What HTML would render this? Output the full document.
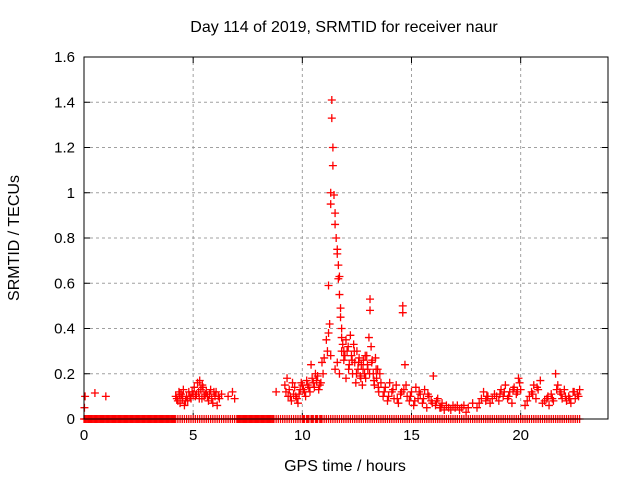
<!DOCTYPE html>
<html><head><meta charset="utf-8"><style>
html,body{margin:0;padding:0;background:#fff;}
svg{display:block;font-family:"Liberation Sans",sans-serif;}
</style></head><body>
<svg id="chart" width="640" height="480">
<text x="344" y="32" font-size="16" text-anchor="middle">Day 114 of 2019, SRMTID for receiver naur</text>
<text x="345" y="471" font-size="16" text-anchor="middle">GPS time / hours</text>
<text x="19" y="238" font-size="16" text-anchor="middle" transform="rotate(-90 19 238)">SRMTID / TECUs</text>
<g id="grid"></g>
<g id="ticks"></g>
<g id="marks"></g>
<rect x="84" y="57" width="524" height="362" fill="none" stroke="#000" stroke-width="1"/>
</svg>
<script>
const xTicks=[0,5,10,15,20];
const yTicks=[0,0.2,0.4,0.6,0.8,1,1.2,1.4,1.6];
const yTickLabels=["0","0.2","0.4","0.6","0.8","1","1.2","1.4","1.6"];
const times=[0.02,0.05,0.5,1.0,
4.2,4.3,4.35,4.4,4.45,4.5,4.55,4.6,4.7,4.75,4.8,4.9,5.0,5.05,5.1,5.2,5.25,5.3,5.35,5.4,5.45,5.5,5.6,5.7,5.75,5.8,5.9,6.0,6.05,6.1,6.2,6.3,6.6,6.8,6.9,
4.25,4.38,4.52,4.65,4.85,4.95,5.15,5.28,5.42,5.55,5.65,5.85,5.95,6.15,
8.8,9.2,9.3,9.35,9.4,9.5,9.55,9.6,9.7,9.8,9.9,10.0,10.1,10.2,10.3,10.4,10.5,10.6,10.7,10.8,10.9,
9.25,9.45,9.65,9.75,9.85,9.95,10.05,10.15,10.25,10.35,10.45,10.55,10.65,10.75,10.85,10.95,
11.0,11.1,11.15,11.2,11.25,11.3,11.3,11.35,11.35,11.4,11.4,11.45,11.5,11.5,11.55,11.6,11.6,11.65,11.65,11.7,11.7,11.75,11.75,11.8,11.8,11.85,11.9,11.95,12.0,
11.2,11.3,11.5,11.6,11.7,11.8,11.9,12.0,12.1,12.15,12.2,12.25,12.3,12.35,12.4,12.45,12.5,12.55,12.6,12.65,12.7,12.75,12.8,12.85,12.9,12.95,13.0,13.05,13.1,13.1,13.15,13.2,13.25,13.3,13.35,13.4,13.45,13.5,13.55,13.6,
12.05,12.12,12.28,12.38,12.48,12.58,12.68,12.78,12.88,12.98,13.08,13.18,13.28,13.38,13.48,
13.7,13.8,13.9,14.0,14.1,14.2,14.3,14.4,14.5,14.6,14.6,14.65,14.7,14.8,14.9,15.0,15.1,15.2,15.3,15.4,15.5,15.6,15.7,15.8,15.9,16.0,16.1,16.2,16.3,16.4,16.5,16.6,16.7,16.8,16.9,
13.75,13.95,14.15,14.35,14.55,14.75,14.95,15.15,15.35,15.55,15.75,15.95,16.15,16.35,
17.0,17.2,17.4,17.5,17.6,17.8,18.0,18.2,18.3,18.4,18.5,18.6,18.8,19.0,19.1,19.2,19.3,19.4,19.5,19.6,19.7,19.8,19.9,20.0,20.2,20.4,20.5,20.6,20.7,20.8,20.9,
17.1,17.3,18.1,18.45,18.7,18.9,19.05,19.25,19.45,19.65,19.85,19.95,20.3,20.55,20.75,
21.0,21.2,21.3,21.4,21.5,21.6,21.7,21.8,21.9,22.0,22.1,22.2,22.3,22.4,22.5,22.6,22.7,
21.1,21.25,21.45,21.65,21.85,22.05,22.25,22.45,22.65];
const values=[0.05,0.1,0.115,0.1,
0.1,0.08,0.12,0.07,0.11,0.09,0.13,0.06,0.1,0.08,0.12,0.09,0.11,0.14,0.1,0.16,0.12,0.17,0.13,0.09,0.14,0.1,0.12,0.08,0.11,0.13,0.07,0.1,0.12,0.06,0.09,0.11,0.1,0.12,0.09,
0.09,0.11,0.1,0.08,0.1,0.12,0.11,0.09,0.15,0.11,0.1,0.09,0.12,0.1,
0.12,0.15,0.18,0.1,0.13,0.08,0.16,0.11,0.1,0.07,0.13,0.15,0.12,0.17,0.14,0.24,0.16,0.2,0.19,0.15,0.25,
0.12,0.1,0.14,0.09,0.11,0.16,0.13,0.1,0.15,0.12,0.18,0.14,0.17,0.13,0.16,0.2,
0.27,0.35,0.3,0.59,0.42,0.95,1.0,1.41,1.33,1.12,1.2,0.99,0.91,0.86,0.8,0.75,0.73,0.68,0.62,0.55,0.63,0.49,0.45,0.4,0.36,0.33,0.3,0.28,0.35,
0.38,0.28,0.22,0.25,0.2,0.3,0.26,0.18,0.32,0.24,0.37,0.28,0.2,0.33,0.25,0.16,0.3,0.22,0.27,0.19,0.24,0.15,0.26,0.2,0.18,0.28,0.22,0.36,0.53,0.48,0.32,0.26,0.2,0.15,0.27,0.18,0.22,0.12,0.2,0.16,
0.3,0.22,0.26,0.3,0.2,0.25,0.18,0.22,0.28,0.24,0.2,0.25,0.17,0.22,0.14,
0.1,0.14,0.08,0.16,0.12,0.09,0.15,0.07,0.11,0.5,0.47,0.13,0.24,0.1,0.08,0.12,0.06,0.14,0.09,0.11,0.07,0.13,0.05,0.1,0.08,0.19,0.06,0.09,0.05,0.07,0.04,0.06,0.05,0.04,0.06,
0.12,0.1,0.13,0.09,0.12,0.15,0.1,0.08,0.12,0.09,0.11,0.07,0.08,0.05,
0.05,0.04,0.06,0.03,0.05,0.07,0.05,0.09,0.12,0.08,0.1,0.07,0.11,0.08,0.13,0.1,0.15,0.09,0.12,0.07,0.14,0.11,0.18,0.13,0.06,0.1,0.12,0.15,0.09,0.13,0.17,
0.06,0.05,0.07,0.1,0.09,0.1,0.11,0.12,0.1,0.13,0.12,0.16,0.08,0.11,0.14,
0.07,0.09,0.06,0.11,0.08,0.2,0.15,0.12,0.09,0.13,0.08,0.1,0.07,0.12,0.09,0.11,0.13,
0.08,0.1,0.09,0.13,0.11,0.1,0.09,0.12,0.1];
const zeroTimes=[0.0,0.1,0.2,0.3,0.4,0.5,0.6,0.7,0.8,0.9,1.0,1.1,1.2,1.3,1.4,1.5,1.6,1.7,1.8,1.9,2.0,2.1,2.2,2.3,2.4,2.5,2.6,2.7,2.8,2.9,3.0,3.1,3.2,3.3,3.4,3.5,3.6,3.7,3.8,3.9,4.0,4.1,4.2,4.4,4.6,4.8,5.0,5.3,5.5,5.7,5.9,6.1,6.3,6.6,6.8,7.0,7.1,7.2,7.3,7.4,7.5,7.6,7.7,7.8,7.9,8.0,8.1,8.2,8.3,8.4,8.5,8.6,8.7,8.9,9.1,9.3,9.5,9.7,9.8,9.9,10.0,10.1,10.2,10.3,10.4,10.5,10.6,10.7,10.8,10.9,11.0,11.1,11.3,11.5,11.7,11.9,12.0,12.2,12.4,12.6,12.8,13.0,13.1,13.3,13.5,13.7,13.9,14.1,14.3,14.5,14.7,14.9,15.1,15.3,15.5,15.7,15.9,16.1,16.3,16.5,16.7,16.9,17.1,17.3,17.5,17.7,17.9,18.1,18.3,18.5,18.7,18.9,19.1,19.3,19.5,19.7,19.9,20.1,20.3,20.5,20.7,20.9,21.1,21.3,21.5,21.7,21.9,22.1,22.3,22.5,22.7,
0.05,0.15,0.25,0.35,0.45,0.55,0.65,0.75,0.85,0.95,1.05,1.15,1.25,1.35,1.45,1.55,1.65,1.75,1.85,1.95,2.05,2.15,2.25,2.35,2.45,2.55,2.65,2.75,2.85,2.95,3.05,3.15,3.25,3.35,3.45,3.55,3.65,3.75,3.85,3.95,4.05,4.15,4.3,4.5,4.7,4.9,5.1,5.2,5.4,5.6,5.8,6.0,6.2,6.4,6.5,6.7,6.9,7.05,7.15,7.25,7.35,7.45,7.55,7.65,7.75,7.85,7.95,8.05,8.15,8.25,8.35,8.45,8.55,8.65,8.8,9.0,9.2,9.4,9.6,10.05,10.25,10.45,10.65,10.85,11.2,11.4,11.6,11.8,12.1,12.3,12.5,12.7,12.9,13.2,13.4,13.6,13.8,14.0,14.2,14.4,14.6,14.8,15.0,15.2,15.4,15.6,15.8,16.0,16.2,16.4,16.6,16.8,17.0,17.2,17.4,17.6,17.8,18.0,18.2,18.4,18.6,18.8,19.0,19.2,19.4,19.6,19.8,20.0,20.2,20.4,20.6,20.8,21.0,21.2,21.4,21.6,21.8,22.0,22.2,22.4,22.6];
const NS="http://www.w3.org/2000/svg";
const X0=84,X1=608,Y0=419,Y1=57,XMAX=24,YMAX=1.6;
function xs(t){return X0+(X1-X0)*t/XMAX;}
function ys(v){return Y0-(Y0-Y1)*v/YMAX;}
function mk(tag,attrs,parent){const e=document.createElementNS(NS,tag);for(const k in attrs)e.setAttribute(k,attrs[k]);parent.appendChild(e);return e;}
const grid=document.getElementById('grid'),ticks=document.getElementById('ticks'),marks=document.getElementById('marks');
yTicks.forEach((v,i)=>{const y=ys(v);
 if(i>0&&i<yTicks.length-1){const g=mk('line',{x1:X0,x2:X1,y1:y,y2:y,stroke:'#a0a0a0','stroke-dasharray':'3,3'},grid);
 
 }
 mk('line',{x1:X0,x2:X0+6,y1:y,y2:y,stroke:'#000'},ticks);mk('line',{x1:X1,x2:X1-6,y1:y,y2:y,stroke:'#000'},ticks);
 const t=mk('text',{x:X0-9,y:y+5,'font-size':15,'text-anchor':'end'},ticks);t.textContent=yTickLabels[i];
 
 });
xTicks.forEach((v,i)=>{const x=xs(v);
 if(i>0){const g=mk('line',{x1:x,x2:x,y1:Y0,y2:Y1,stroke:'#a0a0a0','stroke-dasharray':'3,3'},grid);
 
 }
 mk('line',{x1:x,x2:x,y1:Y0,y2:Y0-6,stroke:'#000'},ticks);mk('line',{x1:x,x2:x,y1:Y1,y2:Y1+6,stroke:'#000'},ticks);
 const t=mk('text',{x:x,y:Y0+21,'font-size':15,'text-anchor':'middle'},ticks);t.textContent=String(v);
 
 });
function plus(t,v,color){const x=xs(t),y=ys(v);
 const p=mk('path',{d:`M${x-4},${y}H${x+4}M${x},${y-4}V${y+4}`,stroke:color,'stroke-width':1.3,fill:'none'},marks);
 
 }
zeroTimes.forEach(t=>plus(t,0,'#ff0000'));
times.forEach((t,i)=>plus(t,values[i],'#ff0000'));
</script>
</body></html>
